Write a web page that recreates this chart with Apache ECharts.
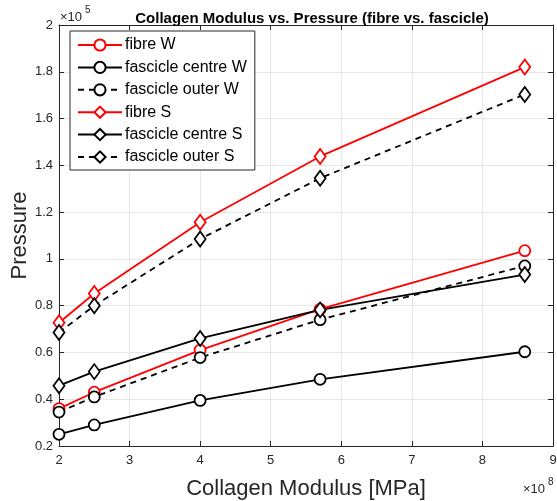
<!DOCTYPE html>
<html><head><meta charset="utf-8">
<script src="https://cdn.jsdelivr.net/npm/echarts@6/dist/echarts.min.js"></script>
<style>html,body{margin:0;padding:0;background:#fff}#c{width:557px;height:501px}</style>
</head><body><div id="c"></div>
<script>
// x values in units of 1e8, y values in units of 1e5
const modulus = [2, 2.5, 4, 5.7, 8.6];
const fibreW = [0.36, 0.43, 0.61, 0.785, 1.035];
const fascicleCentreW = [0.25, 0.29, 0.395, 0.485, 0.603];
const fascicleOuterW = [0.345, 0.41, 0.578, 0.74, 0.97];
const fibreS = [0.727, 0.852, 1.157, 1.438, 1.82];
const fascicleCentreS = [0.458, 0.518, 0.66, 0.782, 0.933];
const fascicleOuterS = [0.685, 0.8, 1.085, 1.345, 1.703];
const xTicks = [2,3,4,5,6,7,8,9];
const yTicks = [0.2,0.4,0.6,0.8,1,1.2,1.4,1.6,1.8,2];

const names = ['fibre W','fascicle centre W','fascicle outer W','fibre S','fascicle centre S','fascicle outer S'];
const datas = [fibreW, fascicleCentreW, fascicleOuterW, fibreS, fascicleCentreS, fascicleOuterS];
const colors = ['#ff0000','#000000','#000000','#ff0000','#000000','#000000'];
const dashed = [false,false,true,false,false,true];
const syms = ['circle','circle','circle','diamond','diamond','diamond'];

const series = names.map((n,i)=>({
  name:n, type:'line',
  data: modulus.map((x,j)=>[x, datas[i][j]]),
  symbol: syms[i],
  symbolSize: syms[i]==='circle' ? 11 : [11,15],
  lineStyle:{color:colors[i], width:1.8, type: dashed[i]?[6,5]:'solid'},
  itemStyle:{color:'#ffffff', borderColor:colors[i], borderWidth:1.8},
  emphasis:{disabled:true},
  z: 3
}));

const FF = 'Liberation Sans, Arial';
const fmt = v => String(Math.round(v*10)/10);
const chart = echarts.init(document.getElementById('c'));
chart.setOption({
  animation:false,
  title:{text:'Collagen Modulus vs. Pressure (fibre vs. fascicle)', left:307, top:6, textAlign:'center',
    textStyle:{fontFamily:FF, fontSize:15, fontWeight:'bold', color:'#000'}},
  grid:{left:59, right:4, top:25, bottom:55, containLabel:false, outerBoundsMode:'none'},
  legend:{
    orient:'vertical', left:70, top:31, itemGap:6.4, itemWidth:44, itemHeight:14,
    backgroundColor:'#fff', borderColor:'#262626', borderWidth:1, padding:[6,8,5,7],
    textStyle:{fontFamily:FF, fontSize:16, color:'#000', padding:[0,0,0,-2]},
    data:names
  },
  xAxis:[{
    type:'value', min:2, max:9, interval:1, position:'bottom',
    name:'Collagen Modulus [MPa]', nameLocation:'middle', nameGap:32, nameMoveOverlap:false,
    nameTextStyle:{fontFamily:FF, fontSize:22, color:'#262626'},
    axisLine:{show:true, lineStyle:{color:'#262626', width:1}},
    axisTick:{show:true, inside:true, length:5, lineStyle:{color:'#262626'}},
    axisLabel:{formatter:fmt, fontFamily:FF, fontSize:13, color:'#262626', margin:8},
    splitLine:{show:true, lineStyle:{color:'#e6e6e6', width:1}}
  },{
    type:'value', min:2, max:9, interval:1, position:'top',
    axisLine:{show:true, onZero:false, lineStyle:{color:'#262626', width:1}},
    axisTick:{show:true, inside:true, length:5, lineStyle:{color:'#262626'}},
    axisLabel:{show:false}, splitLine:{show:false}
  }],
  yAxis:[{
    type:'value', min:0.2, max:2, interval:0.2,
    name:'Pressure', nameLocation:'middle', nameGap:28, nameMoveOverlap:false,
    nameTextStyle:{fontFamily:FF, fontSize:22, color:'#262626'},
    axisLine:{show:true, lineStyle:{color:'#262626', width:1}},
    axisTick:{show:true, inside:true, length:5, lineStyle:{color:'#262626'}},
    axisLabel:{formatter:fmt, fontFamily:FF, fontSize:13, color:'#262626', margin:6},
    splitLine:{show:true, lineStyle:{color:'#e6e6e6', width:1}}
  },{
    type:'value', min:0.2, max:2, interval:0.2, position:'right',
    axisLine:{show:true, onZero:false, lineStyle:{color:'#262626', width:1}},
    axisTick:{show:true, inside:true, length:5, lineStyle:{color:'#262626'}},
    axisLabel:{show:false}, splitLine:{show:false}
  }],
  graphic:[
    {type:'text', left:60, top:11, style:{text:'×10', font:'13px Liberation Sans, Arial', fill:'#262626'}},
    {type:'text', left:85, top:5, style:{text:'5', font:'10px Liberation Sans, Arial', fill:'#262626'}},
    {type:'text', left:523, top:483, style:{text:'×10', font:'13px Liberation Sans, Arial', fill:'#262626'}},
    {type:'text', left:548, top:477, style:{text:'8', font:'10px Liberation Sans, Arial', fill:'#262626'}}
  ],
  series: series
});
</script></body></html>
